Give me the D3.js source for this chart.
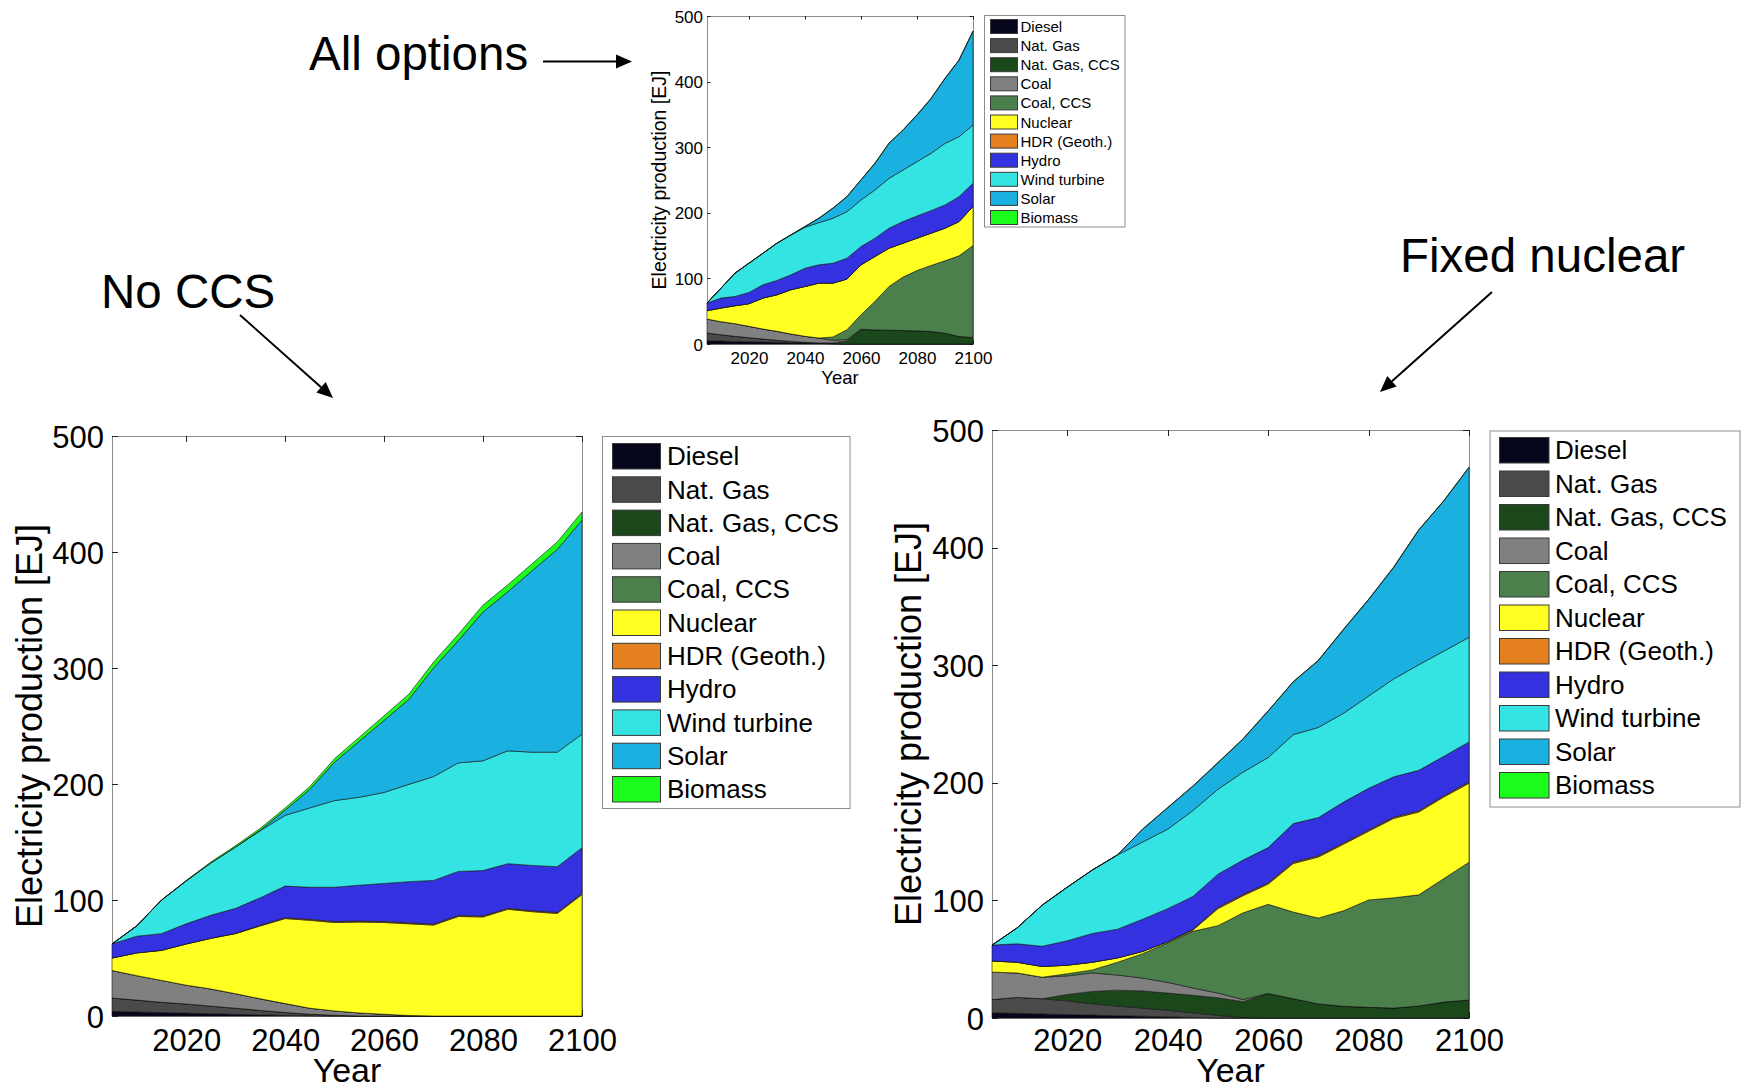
<!DOCTYPE html>
<html>
<head>
<meta charset="utf-8">
<script src="https://cdn.jsdelivr.net/npm/d3@7/dist/d3.min.js"></script>
<style>
  body { margin: 0; background: #fff; }
  svg { display: block; }
  text { font-family: "Liberation Sans", Arial, Helvetica, sans-serif; fill: #000; }
</style>
</head>
<body>
<svg id="chart" width="1748" height="1092"></svg>
<script>
// ---- data -------------------------------------------------------------
const years = [2005, 2010, 2015, 2020, 2025, 2030, 2035, 2040, 2045, 2050,
               2055, 2060, 2065, 2070, 2075, 2080, 2085, 2090, 2095, 2100];

const sources = ["Diesel", "Nat. Gas", "Nat. Gas, CCS", "Coal", "Coal, CCS", "Nuclear",
                 "HDR (Geoth.)", "Hydro", "Wind turbine", "Solar", "Biomass"];

const sourceColors = ["#06061c", "#4a4a4a", "#1b481a", "#808080", "#4b7f4b", "#ffff22",
                      "#e5801f", "#3432e0", "#33e4e2", "#1ab1e1", "#1cfc1c"];

const xTickValues = [2020, 2040, 2060, 2080, 2100];
const yTickValues = [0, 100, 200, 300, 400, 500];

const panelTitles = ["All options", "No CCS", "Fixed nuclear"];
const xAxisLabel = "Year";
const yAxisLabel = "Electricity production [EJ]";

// Electricity production per source [EJ], one row per source (same order as `sources`)
const allOptionsValues = [
  [5, 4.5, 4, 3.5, 3, 2.5, 2, 1.5, 1, 0.2, 0, 0, 0, 0, 0, 0, 0, 0, 0, 0],
  [11.7, 9.7, 7.7, 6.1, 4.6, 3.1, 2, 1, 0.5, 0.5, 0, 0, 0, 0, 0, 0, 0, 0, 0, 0],
  [0, 0, 0, 0, 0, 0, 0, 0, 0, 1, 5, 22, 21.5, 21, 20.5, 20, 19, 16.5, 11.5, 10],
  [21.3, 19.8, 19.3, 17.3, 15.2, 13.7, 11.2, 9.2, 7.5, 4, 2, 0.5, 0, 0, 0, 0, 0, 0, 0, 0],
  [0, 0, 0, 0, 0, 0, 0, 0, 0, 5, 14.8, 22.1, 43.5, 66.7, 81.5, 92, 100.7, 110.3, 122.9, 140],
  [12.7, 20.8, 27.3, 34.5, 47.2, 55.7, 67.5, 76, 83.8, 82.1, 77.2, 76.1, 68.4, 58.3, 51.7, 49.3, 49.2, 49.7, 52.2, 59.4],
  [0, 0, 0, 0, 0, 0, 0, 0, 0, 0, 0, 0, 0, 0, 0, 0, 0, 0, 0, 0],
  [11.7, 15.2, 14.2, 17.2, 20.3, 21.9, 22.8, 27.9, 27.9, 30.4, 31.8, 27.9, 27.9, 30.5, 32.9, 33.9, 34.4, 35.5, 38, 35.6],
  [0, 15.2, 35.5, 44.6, 48.1, 56.8, 60.8, 62.4, 64.3, 68.5, 71, 71, 73.5, 76, 78.6, 82.7, 87.3, 93.8, 91.4, 88.7],
  [0, 0, 0, 0, 0, 0, 0, 1, 6.7, 15.3, 22.8, 30.4, 40.6, 53.3, 60.8, 71.1, 83.4, 98.9, 116.6, 143],
  [0, 0, 0, 0, 0.2, 0.3, 0.3, 0.4, 0.4, 0.5, 0.5, 0.5, 0.5, 0.5, 0.5, 0.5, 0.5, 0.5, 0.5, 0.5]
];

const noCcsValues = [
  [4, 3.5, 3, 2.5, 2, 1.5, 1, 0.5, 0.3, 0, 0, 0, 0, 0, 0, 0, 0, 0, 0, 0],
  [11.5, 10.2, 8.8, 7.9, 6.5, 5.2, 3.8, 2.5, 1.2, 0.7, 0, 0, 0, 0, 0, 0, 0, 0, 0, 0],
  [0, 0, 0, 0, 0, 0, 0, 0, 0, 0, 0, 0, 0, 0, 0, 0, 0, 0, 0, 0],
  [23.7, 21.1, 18.9, 16.2, 14.8, 12.5, 10, 7.7, 5.2, 3.7, 2.6, 1.5, 0.4, 0, 0, 0, 0, 0, 0, 0],
  [0, 0, 0, 0, 0, 0, 0, 0, 0, 0, 0, 0, 0, 0, 0, 0, 0, 0, 0, 0],
  [10.8, 19.6, 25.9, 35.5, 43.7, 51.8, 62.9, 73.3, 75.8, 76.2, 78.4, 79.1, 79.1, 78.4, 85.8, 85.4, 92, 89.9, 88.4, 104.7],
  [0, 0, 0, 0, 0, 0.3, 0.5, 0.8, 0.8, 0.8, 0.8, 0.8, 0.8, 0.8, 0.8, 0.8, 0.8, 0.8, 0.8, 0.8],
  [12.1, 14.4, 14.4, 17.4, 19.9, 21.5, 23.8, 27.2, 27.7, 29.6, 31, 32.9, 35.5, 37.7, 38, 39.2, 38.5, 39.1, 39.5, 39.5],
  [0, 8.9, 28.9, 37, 45.1, 52.9, 57.8, 61, 68.4, 74.7, 75.8, 78.4, 83.9, 89.5, 93.6, 94.6, 97.3, 97.6, 98.7, 98],
  [0, 0, 0, 0, 0, 0, 0.5, 4.4, 16, 33.2, 48.3, 62.2, 73.2, 93.7, 105.4, 128.3, 137.1, 156.8, 174.8, 184.5],
  [0, 0, 0, 0.3, 0.8, 1.2, 1.6, 2, 2.5, 3, 3.5, 4, 4.5, 5, 5.5, 6, 6, 6, 6.5, 7]
];

const fixedNuclearValues = [
  [4.4, 4, 3.5, 3, 2.5, 2, 1.5, 1, 0.5, 0, 0, 0, 0, 0, 0, 0, 0, 0, 0, 0],
  [11.3, 13.5, 12.9, 11.6, 9.5, 8.2, 6.9, 5.6, 3.9, 2.2, 0.4, 0, 0, 0, 0, 0, 0, 0, 0, 0],
  [0, 0, 0, 5.4, 10.6, 13.5, 14.6, 14.6, 14.9, 15, 13.5, 20.8, 16.4, 12, 9.9, 9.1, 8.4, 10.2, 13.5, 15.3],
  [23.3, 20.8, 18.3, 15.8, 15.7, 12.8, 10.9, 9.1, 6.2, 4, 1.8, 0, 0, 0, 0, 0, 0, 0, 0, 0],
  [0, 0, 0, 1.8, 2.6, 10.9, 20.8, 33.6, 48.2, 57.3, 73.7, 75.9, 73.7, 73, 81.3, 91.3, 93.8, 94.5, 105.1, 117.2],
  [9.5, 9.1, 9.1, 7.3, 6.5, 3.7, 1.9, 1, 1, 14.5, 14.6, 17.2, 41.3, 51.9, 56.6, 58.4, 67.5, 70.5, 69.4, 67.1],
  [0, 0, 0, 0, 0, 0, 0, 0, 0.5, 1, 1, 1, 1, 1, 1, 1, 1, 1, 1, 1],
  [13.5, 15.7, 17.2, 20.8, 24.5, 24.4, 27.4, 28.1, 28.1, 28.3, 29.3, 30, 32.9, 32.5, 34.8, 35.5, 34.4, 34.4, 33.6, 34.1],
  [0, 13.5, 35, 45.6, 54, 63.2, 65.6, 67.6, 73, 72.2, 74.8, 76.6, 75.6, 76.7, 75.5, 78.4, 83.2, 89.8, 89.4, 89],
  [0, 0, 0, 0, 0, 0, 11, 18.2, 20.7, 22.5, 28.1, 39.5, 44.9, 56.9, 71.2, 82.1, 94.9, 114.6, 127.8, 144.5],
  [0, 0, 0, 0, 0, 0, 0, 0.3, 0.3, 0.3, 0.3, 0.3, 0.3, 0.3, 0.3, 0.3, 0.3, 0.3, 0.3, 0.3]
];

// ---- layout -----------------------------------------------------------
const panels = [
  { values: allOptionsValues,
    box: { left: 707, right: 973, top: 16, bottom: 344 },
    tickFont: 17, xLabelFont: 18.5, yLabelFont: 19.5, tickLen: 3.5, yTickGap: 4,
    xTickDy: 14, xLabelDy: 33, yLabelX: 659,
    legend: { x: 984.5, y: 15.5, w: 140.5, h: 211.5, swX: 990.5, swW: 27, swH: 14,
              firstY: 19.5, step: 19.1, textX: 1020.5, font: 15 } },
  { values: noCcsValues,
    box: { left: 112, right: 582, top: 436, bottom: 1016 },
    tickFont: 31, xLabelFont: 34, yLabelFont: 36, tickLen: 6, yTickGap: 8,
    xTickDy: 24, xLabelDy: 54, yLabelX: 29,
    legend: { x: 602.5, y: 436.5, w: 247.5, h: 372, swX: 612.5, swW: 48, swH: 25.5,
              firstY: 443.5, step: 33.3, textX: 667, font: 26 } },
  { values: fixedNuclearValues,
    box: { left: 992, right: 1469, top: 430, bottom: 1018 },
    tickFont: 31, xLabelFont: 34, yLabelFont: 36, tickLen: 6, yTickGap: 8,
    xTickDy: 22, xLabelDy: 52, yLabelX: 908,
    legend: { x: 1490, y: 431, w: 250, h: 376, swX: 1499.5, swW: 49.5, swH: 25.5,
              firstY: 437.5, step: 33.5, textX: 1555, font: 26 } }
];

const svg = d3.select("#chart");

function drawPanel(p) {
  const b = p.box;
  const x = d3.scaleLinear().domain([2005, 2100]).range([b.left, b.right]);
  const y = d3.scaleLinear().domain([0, 500]).range([b.bottom, b.top]);
  const g = svg.append("g");

  // frame and ticks (drawn beneath the areas)
  g.append("rect")
    .attr("x", b.left + 0.5).attr("y", b.top + 0.5)
    .attr("width", b.right - b.left).attr("height", b.bottom - b.top)
    .attr("fill", "none").attr("stroke", "#8c8c8c").attr("stroke-width", 1);

  const tk = g.append("g").attr("stroke", "#262626").attr("stroke-width", 1);
  xTickValues.forEach(v => {
    const px = Math.round(x(v)) + 0.5;
    tk.append("line").attr("x1", px).attr("x2", px).attr("y1", b.top).attr("y2", b.top + p.tickLen);
    tk.append("line").attr("x1", px).attr("x2", px).attr("y1", b.bottom).attr("y2", b.bottom - p.tickLen);
  });
  yTickValues.forEach(v => {
    const py = Math.round(y(v)) + 0.5;
    tk.append("line").attr("x1", b.left).attr("x2", b.left + p.tickLen).attr("y1", py).attr("y2", py);
    tk.append("line").attr("x1", b.right).attr("x2", b.right - p.tickLen).attr("y1", py).attr("y2", py);
  });

  // stacked areas
  const rows = years.map((yr, i) => {
    const r = { year: yr };
    sources.forEach((s, k) => { r[s] = p.values[k][i]; });
    return r;
  });
  const stacked = d3.stack().keys(sources)(rows);
  const area = d3.area()
    .x(d => x(d.data.year))
    .y0(d => y(d[0]))
    .y1(d => y(d[1]));
  g.append("g").selectAll("path")
    .data(stacked)
    .join("path")
    .attr("d", area)
    .attr("fill", (d, i) => sourceColors[i])
    .attr("stroke", "#111")
    .attr("stroke-opacity", 0.85)
    .attr("stroke-width", 0.7)
    .attr("stroke-linejoin", "round");

  // tick labels
  const xAxis = d3.axisBottom(x).tickValues(xTickValues).tickFormat(d3.format("d")).tickSize(0).tickPadding(0);
  const xa = g.append("g").attr("transform", `translate(0,${b.bottom + p.xTickDy})`).call(xAxis);
  xa.select(".domain").remove();
  xa.selectAll("text").attr("font-size", p.tickFont).attr("dy", "0.35em")
    .attr("font-family", "Liberation Sans, Arial, sans-serif").attr("fill", "#000");

  const yAxis = d3.axisLeft(y).tickValues(yTickValues).tickSize(0).tickPadding(0);
  const ya = g.append("g").attr("transform", `translate(${b.left - p.yTickGap},0)`).call(yAxis);
  ya.select(".domain").remove();
  ya.selectAll("text").attr("font-size", p.tickFont).attr("dy", "0.36em")
    .attr("font-family", "Liberation Sans, Arial, sans-serif").attr("fill", "#000");

  // axis labels
  g.append("text")
    .attr("x", (b.left + b.right) / 2).attr("y", b.bottom + p.xLabelDy)
    .attr("text-anchor", "middle").attr("dominant-baseline", "central")
    .attr("font-size", p.xLabelFont).text(xAxisLabel);
  g.append("text")
    .attr("transform", `translate(${p.yLabelX},${(b.top + b.bottom) / 2}) rotate(-90)`)
    .attr("text-anchor", "middle").attr("dominant-baseline", "central")
    .attr("font-size", p.yLabelFont).text(yAxisLabel);

  // legend
  const L = p.legend;
  const lg = g.append("g");
  lg.append("rect").attr("x", L.x).attr("y", L.y).attr("width", L.w).attr("height", L.h)
    .attr("fill", "#fff").attr("stroke", "#8c8c8c").attr("stroke-width", 1);
  sources.forEach((s, i) => {
    const top = L.firstY + i * L.step;
    lg.append("rect").attr("x", L.swX).attr("y", top).attr("width", L.swW).attr("height", L.swH)
      .attr("fill", sourceColors[i]).attr("stroke", "#3a3a3a").attr("stroke-width", 1);
    lg.append("text").attr("x", L.textX).attr("y", top + L.swH / 2)
      .attr("dominant-baseline", "central").attr("font-size", L.font).text(s);
  });
}

panels.forEach(drawPanel);

// ---- scenario annotations ---------------------------------------------
const notes = [
  { text: panelTitles[0], tx: 309, ty: 70, from: [543, 61.5], to: [632, 61.5] },
  { text: panelTitles[1], tx: 101, ty: 308, from: [240, 315], to: [333, 398] },
  { text: panelTitles[2], tx: 1400, ty: 272, from: [1492, 292], to: [1380, 392] }
];
notes.forEach(n => {
  svg.append("text").attr("x", n.tx).attr("y", n.ty).attr("font-size", 47.5).text(n.text);
  const dx = n.to[0] - n.from[0], dy = n.to[1] - n.from[1];
  const len = Math.hypot(dx, dy), ux = dx / len, uy = dy / len;
  const head = 16, half = 7;
  const bx = n.to[0] - ux * head, by = n.to[1] - uy * head;
  svg.append("line").attr("x1", n.from[0]).attr("y1", n.from[1]).attr("x2", bx).attr("y2", by)
    .attr("stroke", "#000").attr("stroke-width", 2);
  svg.append("path")
    .attr("d", `M${n.to[0]},${n.to[1]} L${bx - uy * half},${by + ux * half} L${bx + uy * half},${by - ux * half} Z`)
    .attr("fill", "#000");
});
</script>
</body>
</html>
